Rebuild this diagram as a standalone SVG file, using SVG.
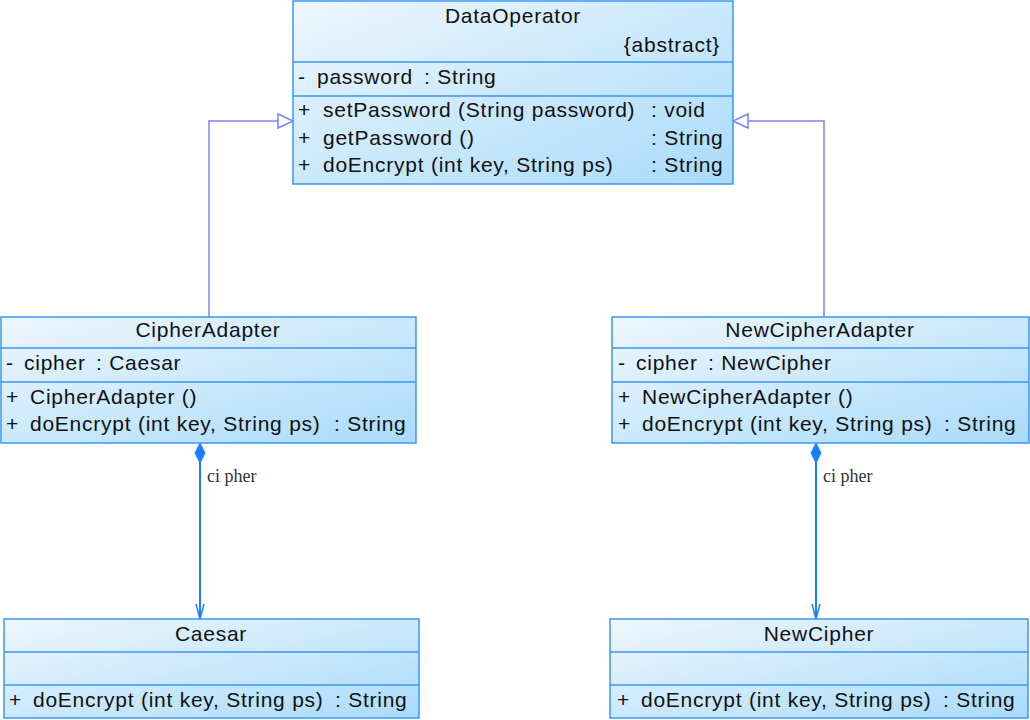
<svg xmlns="http://www.w3.org/2000/svg" width="1030" height="720" viewBox="0 0 1030 720">
<defs>
<linearGradient id="g" x1="0" y1="0" x2="1" y2="1">
<stop offset="0" stop-color="#eef7fd"/>
<stop offset="1" stop-color="#a9dbfb"/>
</linearGradient>
<marker id="tri" markerWidth="18" markerHeight="18" refX="16" refY="8" orient="auto" markerUnits="userSpaceOnUse">
<path d="M1,1 L16,8 L1,15 Z" fill="#ffffff" stroke="#8080ff" stroke-width="1.5"/>
</marker>
<marker id="dia" markerWidth="24" markerHeight="14" refX="1" refY="6" orient="auto" markerUnits="userSpaceOnUse">
<path d="M1,6 L11,1 L21,6 L11,11 Z" fill="#1a80ff" stroke="#1a80ff" stroke-width="1"/>
</marker>
<marker id="open" markerWidth="20" markerHeight="14" refX="17" refY="6" orient="auto" markerUnits="userSpaceOnUse">
<path d="M2,2 L17,6 L2,10" fill="none" stroke="#1a80ff" stroke-width="1.5"/>
</marker>
</defs>
<style>
.box{fill:url(#g);stroke:#3b96f0;stroke-width:1.5}
.sep{stroke:#3b96f0;stroke-width:1.5}
text{font-family:"Liberation Sans",Arial,sans-serif;font-size:21px;letter-spacing:0.75px;fill:#111}
.c{text-anchor:middle}
.r{text-anchor:end}
.lbl{font-family:"Liberation Serif","Times New Roman",serif;font-size:18px;letter-spacing:0;fill:#333}
.gen{fill:none;stroke:#8080ff;stroke-width:1.5}
.comp{fill:none;stroke:#1a80ff;stroke-width:2}
</style>
<g id="connectors">
<path class="gen" d="M209,317 V121 H293" marker-end="url(#tri)"/>
<path class="gen" d="M824,317 V121 H733" marker-end="url(#tri)"/>
<path class="comp" d="M200,443 V619" marker-start="url(#dia)" marker-end="url(#open)"/>
<path class="comp" d="M816,443 V619" marker-start="url(#dia)" marker-end="url(#open)"/>
<text class="lbl" x="207" y="482">ci pher</text>
<text class="lbl" x="823" y="482">ci pher</text>
</g>
<g id="DataOperator">
<rect class="box" x="293" y="1" width="440" height="183"/>
<line class="sep" x1="293" y1="62" x2="733" y2="62"/>
<line class="sep" x1="293" y1="96" x2="733" y2="96"/>
<text class="c" x="513" y="23">DataOperator</text>
<text class="r" x="720" y="52">{abstract}</text>
<text x="298" y="84">-</text><text x="317" y="84">password</text><text x="424" y="84">: String</text>
<text x="298" y="117">+</text><text x="323" y="117">setPassword (String password)</text><text x="651" y="117">: void</text>
<text x="298" y="145">+</text><text x="323" y="145">getPassword ()</text><text x="651" y="145">: String</text>
<text x="298" y="172">+</text><text x="323" y="172">doEncrypt (int key, String ps)</text><text x="651" y="172">: String</text>
</g>
<g id="CipherAdapter">
<rect class="box" x="1" y="317" width="415" height="126"/>
<line class="sep" x1="1" y1="348" x2="416" y2="348"/>
<line class="sep" x1="1" y1="382" x2="416" y2="382"/>
<text class="c" x="208" y="337">CipherAdapter</text>
<text x="6" y="370">-</text><text x="24" y="370">cipher</text><text x="96" y="370">: Caesar</text>
<text x="6" y="404">+</text><text x="30" y="404">CipherAdapter ()</text>
<text x="6" y="431">+</text><text x="30" y="431">doEncrypt (int key, String ps)</text><text x="334" y="431">: String</text>
</g>
<g id="NewCipherAdapter">
<rect class="box" x="612" y="317" width="417" height="126"/>
<line class="sep" x1="612" y1="348" x2="1029" y2="348"/>
<line class="sep" x1="612" y1="382" x2="1029" y2="382"/>
<text class="c" x="820" y="337">NewCipherAdapter</text>
<text x="618" y="370">-</text><text x="636" y="370">cipher</text><text x="708" y="370">: NewCipher</text>
<text x="618" y="404">+</text><text x="642" y="404">NewCipherAdapter ()</text>
<text x="618" y="431">+</text><text x="642" y="431">doEncrypt (int key, String ps)</text><text x="944" y="431">: String</text>
</g>
<g id="Caesar">
<rect class="box" x="4" y="619" width="415" height="99"/>
<line class="sep" x1="4" y1="652" x2="419" y2="652"/>
<line class="sep" x1="4" y1="685" x2="419" y2="685"/>
<text class="c" x="211" y="641">Caesar</text>
<text x="9" y="707">+</text><text x="33" y="707">doEncrypt (int key, String ps)</text><text x="335" y="707">: String</text>
</g>
<g id="NewCipher">
<rect class="box" x="610" y="619" width="418" height="99"/>
<line class="sep" x1="610" y1="652" x2="1028" y2="652"/>
<line class="sep" x1="610" y1="685" x2="1028" y2="685"/>
<text class="c" x="819" y="641">NewCipher</text>
<text x="617" y="707">+</text><text x="641" y="707">doEncrypt (int key, String ps)</text><text x="943" y="707">: String</text>
</g>
</svg>
